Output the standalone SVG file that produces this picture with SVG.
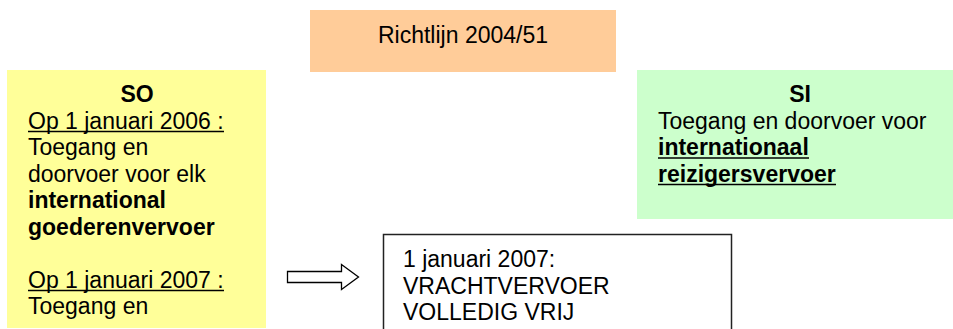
<svg xmlns="http://www.w3.org/2000/svg" width="953" height="329" viewBox="0 0 953 329">
  <style>
    text { font-family: "Liberation Sans", Arial, sans-serif; font-size: 23px; fill: #000; }
    .b { font-weight: bold; }
    .mid { text-anchor: middle; }
    .ul { stroke: #000; stroke-width: 1.7; }
  </style>
  <defs/>
  <rect width="953" height="329" fill="#fff"/>

  <g id="richtlijn">
    <rect x="310" y="10" width="306" height="62" fill="#FFCC99"/>
    <text x="463" y="43" class="mid">Richtlijn 2004/51</text>
  </g>

  <g id="so">
    <rect x="7" y="70" width="259" height="258" fill="#FFFF99"/>
    <text x="137" y="102" class="b mid">SO</text>
    <text x="28" y="128.5">Op 1 januari 2006 :</text>
    <line class="ul" x1="28" y1="131.5" x2="224" y2="131.5"/>
    <text x="28" y="155">Toegang en</text>
    <text x="28" y="181.5">doorvoer voor elk</text>
    <text x="28" y="208" class="b">international</text>
    <text x="28" y="234.5" class="b">goederenvervoer</text>
    <text x="28" y="287.5">Op 1 januari 2007 :</text>
    <line class="ul" x1="28" y1="290.5" x2="224" y2="290.5"/>
    <text x="28" y="314">Toegang en</text>
  </g>

  <g id="si">
    <rect x="637" y="70" width="316" height="149" fill="#CCFFCC"/>
    <text x="800" y="102" class="b mid">SI</text>
    <text x="658" y="128.5">Toegang en doorvoer voor</text>
    <text x="658" y="155" class="b">internationaal</text>
    <line class="ul" x1="658" y1="158" x2="809" y2="158"/>
    <text x="658" y="181.5" class="b">reizigersvervoer</text>
    <line class="ul" x1="658" y1="184.5" x2="836" y2="184.5"/>
  </g>

  <g id="vracht">
    <rect x="383.5" y="234.5" width="348" height="100" fill="#fff" stroke="#222" stroke-width="1.5"/>
    <text x="403" y="267">1 januari 2007:</text>
    <text x="403" y="293.5">VRACHTVERVOER</text>
    <text x="403" y="320">VOLLEDIG VRIJ</text>
  </g>

  <g id="connectors">
    <path d="M287.5 271.5 H341.5 V264.5 L358.5 277 L341.5 289.5 V282.5 H287.5 Z" fill="#fff" stroke="#000" stroke-width="1.3"/>
  </g>
</svg>
